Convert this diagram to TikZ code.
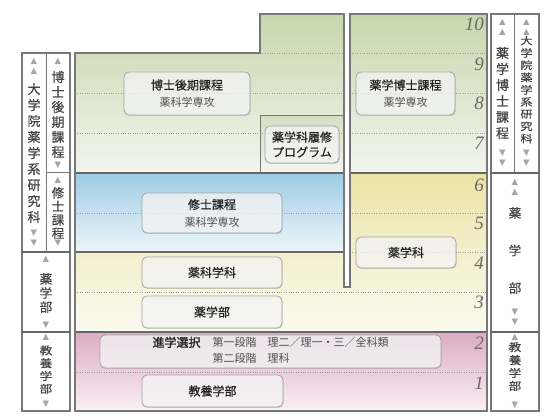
\documentclass[tikz,border=0pt]{standalone}
\usepackage{fontspec}
\usepackage{graphicx}
\setmainfont{Liberation Serif}
\newfontfamily\jp{Noto Sans CJK JP}
\newfontfamily\jpm{Noto Sans CJK JP}[FakeBold=0.6]
\newfontfamily\jpb{Noto Sans CJK JP}[FakeBold=1.6]
\newfontfamily\sym{DejaVu Sans}
\usetikzlibrary{shadows}
\definecolor{grnT}{HTML}{C6D7AD}
\definecolor{grnB}{HTML}{F3F5EE}
\definecolor{grnS}{HTML}{D3DFC1}
\definecolor{bluT}{HTML}{9ECCE5}
\definecolor{bluB}{HTML}{EEF5FA}
\definecolor{yelT}{HTML}{EBE3A6}
\definecolor{yelB}{HTML}{FBFAF1}
\definecolor{pnkT}{HTML}{DCACC5}
\definecolor{pnkB}{HTML}{FAF0F5}
\definecolor{edgec}{HTML}{777777}
\definecolor{darkc}{HTML}{666666}
\definecolor{arrc}{HTML}{A6A6A6}
\definecolor{txtc}{HTML}{222222}
\definecolor{subc}{HTML}{4D4D4D}
\definecolor{sidec}{HTML}{444444}
\definecolor{gridc}{HTML}{9A9A9A}
\definecolor{cardc}{HTML}{A0A0A0}
\definecolor{yrc}{HTML}{6A6A6A}
\tikzset{
  frame/.style={draw=edgec, line width=1.1pt},
  sect/.style={draw=darkc, line width=1.6pt},
  thinline/.style={draw=edgec, line width=0.9pt},
  gridline/.style={draw=gridc, line width=0.7pt, dash pattern=on 0.8pt off 1.6pt},
  card/.style={draw=cardc, line width=0.8pt, rounded corners=5pt, fill=white,
    fill opacity=0.72, text opacity=1, align=center, inner sep=0pt, text=txtc,
    font=\jpm\fontsize{12}{17}\selectfont,
    drop shadow={shadow xshift=0.7pt, shadow yshift=-0.9pt, opacity=0.22, fill=black!60}},
  yr/.style={font=\itshape\fontsize{19}{19}\selectfont, text=yrc, anchor=east, inner sep=0pt},
  side/.style={font=\jpm\fontsize{13}{16}\selectfont, text=sidec, align=center, inner sep=0pt},
  tri/.style={font=\sym\fontsize{8.5}{10}\selectfont, text=arrc, align=center, inner sep=0pt},
}
\newcommand{\subl}[1]{{\jp\fontsize{11}{14}\selectfont\color{subc}#1}}
\begin{document}
\begin{tikzpicture}[x=1pt,y=-1pt]
\useasboundingbox (0,0) rectangle (560,420);
\fill[white] (0,0) rectangle (560,420);

% ---- coloured bands
\shade[top color=grnT, bottom color=grnB]
  (75,53) -- (260,53) -- (260,14) -- (344,14) -- (344,173) -- (75,173) -- cycle;
\shade[top color=grnT, bottom color=grnB] (350,14) rectangle (487,173);
\shade[top color=grnS, bottom color=grnB] (260,115) rectangle (344,173);
\shade[top color=yelT, bottom color=yelB]
  (75,173) -- (344,173) -- (344,287) -- (350,287) -- (350,173) -- (487,173)
  -- (487,332) -- (75,332) -- cycle;
\shade[top color=bluT, bottom color=bluB] (75,173) rectangle (344,252);
\shade[top color=pnkT, bottom color=pnkB] (75,332) rectangle (487,411);

% ---- year lines
\draw[gridline] (260,53) -- (344,53) (350,53) -- (487,53);
\draw[gridline] (75,93) -- (344,93) (350,93) -- (487,93);
\draw[gridline] (75,133) -- (344,133) (350,133) -- (487,133);
\draw[gridline] (75,213) -- (344,213) (350,213) -- (487,213);
\draw[gridline] (350,252) -- (487,252);
\draw[gridline] (75,292) -- (487,292);
\draw[gridline] (75,372) -- (487,372);

% ---- borders of the main area
\draw[thinline] (260,173) -- (260,115) -- (344,115);
\draw[sect] (75,173) -- (344,173) (350,173) -- (487,173);
\draw[sect] (75,252) -- (344,252);
\draw[sect] (75,332) -- (487,332);
\draw[frame] (75,53) -- (260,53) -- (260,14) -- (344,14) -- (344,287) -- (350,287)
  -- (350,14) -- (487,14) -- (487,411) -- (75,411) -- cycle;

% ---- left column
\draw[frame] (22,53) rectangle (70,411);
\draw[thinline] (46,53) -- (46,252);
\draw[thinline] (46,172) -- (70,172);
\draw[sect] (22,252) -- (70,252) (22,332) -- (70,332);

\node[tri] (la1) at (34,66.5) {▲\\▲};
\node[side] (lt1) at (34,153) {大\\学\\院\\薬\\学\\系\\研\\究\\科};
\node[tri] (la2) at (34,238) {▼\\▼};
\node[tri] (lb1) at (58,61) {▲};
\node[side, font=\jpm\fontsize{13}{15}\selectfont] (lt2) at (58,114.5) {博\\士\\後\\期\\課\\程};
\node[tri] (lb2) at (58,165) {▼};
\node[tri] (lc1) at (58,180) {▲};
\node[side, font=\jpm\fontsize{12.5}{13.5}\selectfont] (lt3) at (58,213) {修\\士\\課\\程};
\node[tri] (lc2) at (58,243) {▼};
\node[tri] (ld1) at (46,259) {▲};
\node[side, font=\jpm\fontsize{12.5}{14}\selectfont] (lt4) at (46,293) {薬\\学\\部};
\node[tri] (ld2) at (46,325) {▼};
\node[tri] (le1) at (46,337) {▲};
\node[side] (lt5) at (46,371) {\scalebox{1}[0.86]{\fontsize{12.5}{14.5}\selectfont\begin{tabular}{@{}c@{}}教\\養\\学\\部\end{tabular}}};
\node[tri] (le2) at (46,404) {▼};

% ---- right column
\draw[frame] (491,14) rectangle (539,411);
\draw[thinline] (514,14) -- (514,173);
\draw[sect] (491,173) -- (539,173) (491,332) -- (539,332);

\node[tri] (ra1) at (502.5,27.5) {▲\\▲};
\node[side] (rt1) at (502.5,93) {薬\\学\\博\\士\\課\\程};
\node[tri] (ra2) at (502.5,158) {▼\\▼};
\node[tri] (rb1) at (526.5,27.5) {▲\\▲};
\node[side] (rt2) at (526.5,91) {\scalebox{1}[0.86]{\fontsize{12}{14}\selectfont\begin{tabular}{@{}c@{}}大\\学\\院\\薬\\学\\系\\研\\究\\科\end{tabular}}};
\node[tri] (rb2) at (526.5,158) {▼\\▼};
\node[tri] (rc1) at (515,187.5) {▲\\▲};
\node[side, font=\jpm\fontsize{12.5}{37.5}\selectfont] (rt3) at (515,250.5) {薬\\学\\部};
\node[tri] (rc2) at (515,317.5) {▼\\▼};
\node[tri] (rd1) at (515,337) {▲};
\node[side] (rt4) at (515,368) {\scalebox{1}[0.86]{\fontsize{12.5}{15}\selectfont\begin{tabular}{@{}c@{}}教\\養\\学\\部\end{tabular}}};
\node[tri] (rd2) at (515,405) {▼};

% ---- cards
\node[card, minimum width=126pt, minimum height=43pt] (dk) at (187,93.5)
  {博士後期課程\\\subl{薬科学専攻}};
\node[card, minimum width=99pt, minimum height=43pt] (yh) at (405.5,93.5)
  {薬学博士課程\\\subl{薬学専攻}};
\node[card, minimum width=74pt, minimum height=37pt, font=\jpm\fontsize{12}{15}\selectfont] (rp) at (302,144.5)
  {薬学科履修\\プログラム};
\node[card, minimum width=140pt, minimum height=40pt] (ms) at (212,213)
  {修士課程\\\subl{薬科学専攻}};
\node[card, minimum width=140pt, minimum height=31pt] (yk) at (212,272.5) {薬科学科};
\node[card, minimum width=140pt, minimum height=32pt] (yb) at (212,312) {薬学部};
\node[card, minimum width=100pt, minimum height=31pt] (ygk) at (406,252.5) {薬学科};
\node[card, minimum width=341pt, minimum height=33pt] (sg) at (270.5,351.5)
  {\jp\fontsize{11}{17}\selectfont\begin{tabular}{@{}l@{\hspace{12pt}}l@{}}
   {\jpb\fontsize{12}{17}\selectfont\color{txtc}進学選択} & \color{subc}第一段階　理二／理一・三／全科類\\[-1pt]
   & \color{subc}第二段階　理科
  \end{tabular}};
\node[card, minimum width=141pt, minimum height=32pt] (ky) at (212.5,391) {教養学部};

% ---- year numbers
\node[yr] (y10) at (484,24) {10};
\node[yr] (y9) at (484,64) {9};
\node[yr] (y8) at (484,103) {8};
\node[yr] (y7) at (484,143) {7};
\node[yr] (y6) at (484,185) {6};
\node[yr] (y5) at (484,223) {5};
\node[yr] (y4) at (484,263) {4};
\node[yr] (y3) at (484,302) {3};
\node[yr] (y2) at (484,343) {2};
\node[yr] (y1) at (484,383) {1};
\end{tikzpicture}
\end{document}
